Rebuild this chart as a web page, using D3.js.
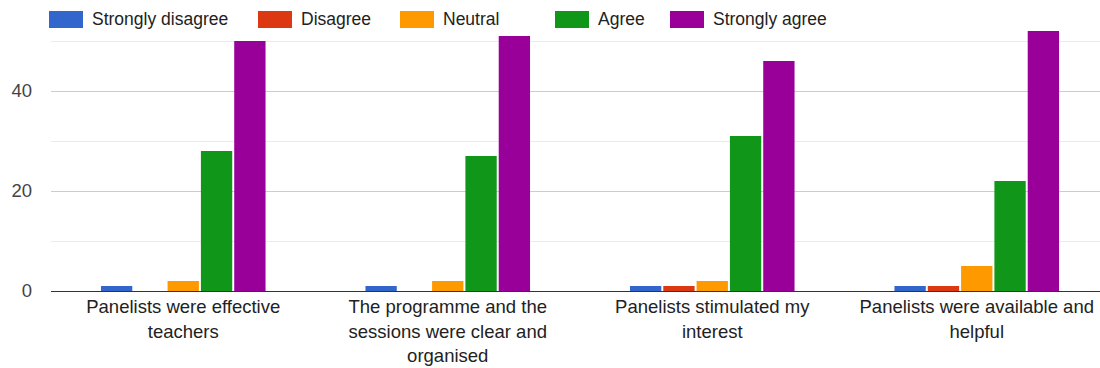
<!DOCTYPE html>
<html>
<head>
<meta charset="utf-8">
<script src="https://cdn.jsdelivr.net/npm/d3@7"></script>
<style>
  body { margin: 0; background: #fff; }
  text { font-family: "Liberation Sans", Arial, sans-serif; }
</style>
</head>
<body>
<div id="chart"></div>
<script>
const categories = [
    "Panelists were effective teachers",
    "The programme and the sessions were clear and organised",
    "Panelists stimulated my interest",
    "Panelists were available and helpful"
];
const seriesNames = ["Strongly disagree", "Disagree", "Neutral", "Agree", "Strongly agree"];
const stronglyDisagree = [1, 1, 1, 1];
const disagree = [0, 0, 1, 1];
const neutral = [2, 2, 2, 5];
const agree = [28, 27, 31, 22];
const stronglyAgree = [50, 51, 46, 52];
const yTicks = [0, 20, 40];
const yGrid = [0, 10, 20, 30, 40, 50];

const colors = ["#3366cc", "#dc3912", "#ff9900", "#109618", "#990099"];
const seriesValues = [stronglyDisagree, disagree, neutral, agree, stronglyAgree];

const W = 1100, H = 368;
const fontSize = "17.5px";
const labelSize = "18.5px";

const svg = d3.select("#chart")
    .append("svg")
    .attr("width", W)
    .attr("height", H);

// scales
const x0 = d3.scaleBand()
    .domain(categories)
    .range([51, 1109])
    .padding(0);

const x1 = d3.scaleBand()
    .domain(seriesNames)
    .range([0, x0.bandwidth()])
    .paddingInner(0.06)
    .paddingOuter(1.5);

const y = d3.scaleLinear()
    .domain([0, 50])
    .range([291, 41]);

// gridlines
svg.append("g")
    .selectAll("line")
    .data(yGrid)
    .join("line")
    .attr("x1", 51)
    .attr("x2", W)
    .attr("y1", d => y(d) + 0.5)
    .attr("y2", d => y(d) + 0.5)
    .attr("stroke", d => d % 20 === 0 ? "#cccccc" : "#ebebeb")
    .attr("stroke-width", 1);

// y tick labels
svg.append("g")
    .selectAll("text")
    .data(yTicks)
    .join("text")
    .attr("x", 32)
    .attr("y", d => y(d) + 6)
    .attr("text-anchor", "end")
    .attr("fill", "#444")
    .style("font-size", labelSize)
    .text(d => d);

// bars
const groups = svg.append("g")
    .selectAll("g")
    .data(categories)
    .join("g")
    .attr("transform", d => `translate(${x0(d)},0)`);

groups.selectAll("rect")
    .data((c, i) => seriesNames.map((s, j) => ({ s, j, v: seriesValues[j][i] })))
    .join("rect")
    .filter(d => d.v > 0)
    .attr("x", d => x1(d.s))
    .attr("width", x1.bandwidth())
    .attr("y", d => y(d.v))
    .attr("height", d => y(0) - y(d.v))
    .attr("fill", d => colors[d.j]);

// baseline
svg.append("line")
    .attr("x1", 51)
    .attr("x2", W)
    .attr("y1", y(0) + 0.5)
    .attr("y2", y(0) + 0.5)
    .attr("stroke", "#333")
    .attr("stroke-width", 1);

// x labels (wrapped)
const measure = svg.append("text").style("font-size", labelSize).attr("opacity", 0);
function wrapLines(str, maxW) {
    const words = str.split(" ");
    const lines = [];
    let line = "";
    words.forEach(w => {
        const test = line ? line + " " + w : w;
        measure.text(test);
        if (measure.node().getComputedTextLength() > maxW && line) {
            lines.push(line);
            line = w;
        } else {
            line = test;
        }
    });
    lines.push(line);
    return lines;
}

categories.forEach(c => {
    const lines = wrapLines(c, 245);
    const t = svg.append("text")
        .attr("text-anchor", "middle")
        .attr("fill", "#222")
        .style("font-size", labelSize);
    lines.forEach((l, i) => {
        t.append("tspan")
            .attr("x", x0(c) + x0.bandwidth() / 2)
            .attr("y", 313 + i * 24.5)
            .text(l);
    });
});
measure.remove();

// legend
const legendX = [49, 258, 400, 555, 670];
const legend = svg.append("g")
    .selectAll("g")
    .data(seriesNames)
    .join("g")
    .attr("transform", (d, i) => `translate(${legendX[i]},11)`);

legend.append("rect")
    .attr("width", 34)
    .attr("height", 17)
    .attr("fill", (d, i) => colors[i]);

legend.append("text")
    .attr("x", 43)
    .attr("y", 14)
    .attr("fill", "#222")
    .style("font-size", fontSize)
    .text(d => d);
</script>
</body>
</html>
